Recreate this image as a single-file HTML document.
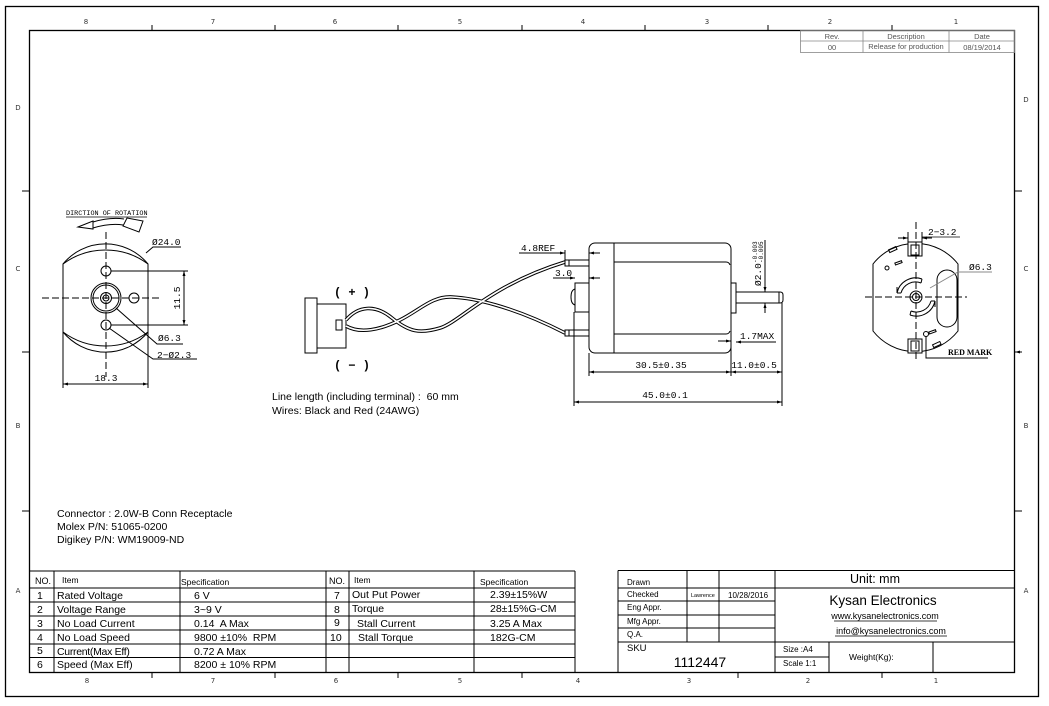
<!DOCTYPE html>
<html><head><meta charset="utf-8"><style>body{margin:0;background:#fff}svg{display:block}</style></head><body>
<svg xmlns="http://www.w3.org/2000/svg" width="1049" height="706" viewBox="0 0 1049 706" font-family="'Liberation Sans', Arial, sans-serif">
<defs>
<marker id="ar" viewBox="0 0 10 6" refX="10" refY="3" markerWidth="7" markerHeight="3" orient="auto-start-reverse" markerUnits="userSpaceOnUse"><path d="M0,0L10,3L0,6z" fill="#000" stroke="none"/></marker>
</defs>
<rect width="1049" height="706" fill="#fff"/>

<!-- frames -->
<g fill="none" stroke="#000" stroke-width="1.3">
<rect x="5.5" y="6.5" width="1033" height="690"/>
<rect x="29.5" y="30.5" width="985" height="642"/>
</g>
<g stroke="#000" stroke-width="1" fill="none">
<path d="M152,25V30M275,25V30M398,25V30M522,25V30M645,25V30M768,25V30M892,25V30"/>
<path d="M152,672V678M275,672V678M398,672V678M522,672V678M738,672V678M882,672V678"/>
<path d="M22,191H29M22,352H29M22,511H29"/>
<path d="M1014,191H1022M1014,511H1022"/>
<path d="M1022,352H1015" marker-end="url(#ar)"/>
</g>
<g font-family="'DejaVu Sans', sans-serif" font-size="7" fill="#333" text-anchor="middle">
<text x="86" y="24">8</text><text x="213" y="24">7</text><text x="335" y="24">6</text><text x="460" y="24">5</text><text x="583" y="24">4</text><text x="707" y="24">3</text><text x="830" y="24">2</text><text x="956" y="24">1</text>
<text x="87" y="683">8</text><text x="213" y="683">7</text><text x="336" y="683">6</text><text x="460" y="683">5</text><text x="578" y="683">4</text><text x="689" y="683">3</text><text x="808" y="683">2</text><text x="936" y="683">1</text>
<text x="18" y="110">D</text><text x="18" y="271">C</text><text x="18" y="428">B</text><text x="18" y="593">A</text>
<text x="1026" y="102">D</text><text x="1026" y="271">C</text><text x="1026" y="428">B</text><text x="1026" y="593">A</text>
</g>

<!-- rev table -->
<g fill="none" stroke="#888" stroke-width="0.8">
<rect x="800.5" y="30.5" width="214" height="22"/>
<path d="M863,30.5V52.5M949,30.5V52.5M800.5,41H1014.5"/>
</g>
<g font-size="7.5" fill="#555" text-anchor="middle">
<text x="832" y="39">Rev.</text><text x="906" y="39">Description</text><text x="982" y="39">Date</text>
<text x="832" y="50">00</text><text x="906" y="49">Release for production</text><text x="982" y="50">08/19/2014</text>
</g>

<!-- LEFT END VIEW -->
<g font-family="'Liberation Mono', monospace" fill="#000">
<text x="66" y="215" font-size="6.8">DIRCTION OF ROTATION</text>
<text x="152" y="245" font-size="9.5">Ø24.0</text>
<text x="158" y="341" font-size="9.5">Ø6.3</text>
<text x="157" y="358" font-size="9.5">2−Ø2.3</text>
<text x="106" y="381" font-size="9.5" text-anchor="middle">18.3</text>
<text x="0" y="0" font-size="9.5" text-anchor="middle" transform="translate(180,298) rotate(-90)">11.5</text>
</g>
<g fill="none" stroke="#000" stroke-width="1">
<path d="M66,217H147" stroke-width="0.8"/>
<path d="M78,227L93,221L93,229Z"/>
<path d="M93,222Q110,217 124,219M93,228Q110,223 123,225"/>
<path d="M123,226L127,218L143,221L139,232Z"/>
<path d="M63,264A55,55 0 0 1 148,264V332A55,55 0 0 1 63,332Z"/>
<path d="M63,264A71.5,71.5 0 0 1 148,264M63,332A71.5,71.5 0 0 0 148,332"/>
<circle cx="106" cy="271" r="5"/>
<circle cx="106" cy="325" r="5"/>
<circle cx="134" cy="298" r="5"/>
<circle cx="106" cy="298" r="15"/>
<circle cx="106" cy="298" r="13"/>
<circle cx="106" cy="298" r="5.5"/>
<circle cx="106" cy="298" r="3"/>
<path d="M106,232V377M42,298H162" stroke-dasharray="7,3"/>
<path d="M111,271H188M111,325H188"/>
<path d="M184,271V325" marker-start="url(#ar)" marker-end="url(#ar)"/>
<path d="M146,253L153,247H181"/>
<path d="M116,308L157,344H183"/>
<path d="M109,328L153,359H197"/>
<path d="M63,332V388M148,332V388"/>
<path d="M63,384H148" marker-start="url(#ar)" marker-end="url(#ar)"/>
</g>

<!-- CONNECTOR + WIRES -->
<g fill="none" stroke="#000" stroke-width="1">
<rect x="305" y="298" width="12" height="55"/>
<rect x="317" y="304" width="29" height="44"/>
<rect x="336" y="320" width="6" height="10"/>
</g>
<g fill="none" stroke-linecap="butt">
<path d="M346,320C358,306 375,304 392,318S420,334 440,328S490,285 565,262" stroke="#000" stroke-width="3.6"/>
<path d="M346,326C360,334 380,330 400,320S432,296 452,297S510,305 565,333" stroke="#000" stroke-width="3.6"/>
<path d="M346,320C358,306 375,304 392,318S420,334 440,328S490,285 565,262" stroke="#fff" stroke-width="1.6"/>
<path d="M346,326C360,334 380,330 400,320S432,296 452,297S510,305 565,333" stroke="#fff" stroke-width="1.6"/>
</g>
<g font-family="'Liberation Mono', monospace" font-size="12" font-weight="bold" fill="#000">
<text x="334" y="296" xml:space="preserve">( + )</text>
<text x="334" y="369" xml:space="preserve">( − )</text>
</g>
<g font-size="10.5" fill="#000">
<text x="272" y="400" xml:space="preserve">Line length (including terminal) :  60 mm</text>
<text x="272" y="414">Wires: Black and Red (24AWG)</text>
</g>

<!-- MOTOR SIDE VIEW -->
<g fill="none" stroke="#000" stroke-width="1">
<rect x="589" y="243" width="142" height="110" rx="6"/>
<path d="M614,243V353M614,262H726Q729,262 730,265M614,334H726Q729,334 730,331"/>
<rect x="731" y="283" width="5" height="30"/>
<path d="M736,292H780Q783,292 783,295V300Q783,303 780,303H736M779,292V303"/>
<rect x="575" y="283" width="14" height="29"/>
<path d="M575,289Q571,290 571,297Q571,304 575,305"/>
<rect x="565" y="260" width="24" height="6"/>
<path d="M569,260V266"/>
<rect x="565" y="330" width="24" height="6"/>
<path d="M569,330V336"/>
<path d="M565,250V260"/>
<path d="M519,253H565"/>
<path d="M552,253H565" marker-end="url(#ar)"/>
<path d="M600,253H589" marker-end="url(#ar)"/>
<path d="M553,278H575" marker-end="url(#ar)"/>
<path d="M600,278H589" marker-end="url(#ar)"/>
<path d="M765,240V292" marker-end="url(#ar)"/>
<path d="M765,313V303" marker-end="url(#ar)"/>
<path d="M718,341H731" marker-end="url(#ar)"/>
<path d="M776,342H736" marker-end="url(#ar)"/>
<path d="M589,353V376M731,313V376M782,303V406M574,312V406"/>
<path d="M589,372H731" marker-start="url(#ar)" marker-end="url(#ar)"/>
<path d="M731,372H782" marker-start="url(#ar)" marker-end="url(#ar)"/>
<path d="M574,402H782" marker-start="url(#ar)" marker-end="url(#ar)"/>
</g>
<g font-family="'Liberation Mono', monospace" font-size="9.5" fill="#000">
<text x="521" y="251">4.8REF</text>
<text x="555" y="276">3.0</text>
<text x="740" y="339">1.7MAX</text>
<text x="661" y="368" text-anchor="middle">30.5±0.35</text>
<text x="754" y="368" text-anchor="middle">11.0±0.5</text>
<text x="665" y="398" text-anchor="middle">45.0±0.1</text>
<g transform="translate(761,286) rotate(-90)">
<text x="0" y="0" font-size="9.5">Ø2.0</text>
<text x="23" y="-4" font-size="6">-0.003</text>
<text x="23" y="2" font-size="6">-0.005</text>
</g>
</g>

<!-- RIGHT END VIEW -->
<g fill="none" stroke="#000" stroke-width="1">
<path d="M873,264A54,54 0 0 1 958,264V331A54,54 0 0 1 873,331Z"/>
<rect x="908" y="242" width="14" height="14" fill="#fff"/>
<rect x="911" y="245" width="8" height="10"/>
<rect x="908" y="339" width="14" height="14" fill="#fff"/>
<rect x="911" y="341" width="8" height="10"/>
<rect x="937" y="270" width="20" height="57" rx="10"/>
<circle cx="916" cy="297" r="6"/>
<circle cx="916" cy="297" r="3.5"/>
<path d="M897,293A19,19 0 0 1 922,279M901,293A15,15 0 0 1 921,283M897,293L901,293M922,279L921,283"/>
<path d="M935,301A19,19 0 0 1 910,315M931,301A15,15 0 0 1 911,311M935,301L931,301M910,315L911,311"/>
<path d="M897,293L897,287M935,301V307"/>
<rect x="889" y="248" width="8" height="3" transform="rotate(-25 893 250)"/>
<circle cx="887" cy="268" r="2"/>
<rect x="895" y="262" width="7" height="2" transform="rotate(-20 898 263)"/>
<circle cx="926" cy="334" r="2.5"/>
<rect x="929" y="331" width="7" height="2" transform="rotate(-20 932 332)"/>
<rect x="933" y="343" width="8" height="3" transform="rotate(-25 937 345)"/>
<path d="M916,222V362M865,297H967" stroke-dasharray="7,3"/>
<path d="M908,232V242M922,232V242"/>
<path d="M898,238H908" marker-end="url(#ar)"/>
<path d="M932,238H922" marker-end="url(#ar)"/>
<path d="M922,237H960" stroke-width="0.8"/>
<path d="M930,288L958,272H992" stroke="#888"/>
<path d="M926,336V358H988"/>
</g>
<g font-family="'Liberation Mono', monospace" font-size="9.5" fill="#000">
<text x="928" y="235">2−3.2</text>
<text x="969" y="270">Ø6.3</text>
</g>
<text x="948" y="355" font-family="'Liberation Serif', serif" font-weight="bold" font-size="8" fill="#000">RED MARK</text>

<!-- CONNECTOR TEXT -->
<g font-size="10.5" fill="#000">
<text x="57" y="517">Connector : 2.0W-B Conn Receptacle</text>
<text x="57" y="530">Molex P/N: 51065-0200</text>
<text x="57" y="543">Digikey P/N: WM19009-ND</text>
</g>

<!-- SPEC TABLES -->
<g fill="none" stroke="#000" stroke-width="1">
<path d="M29.5,571H575M29.5,588H575M29.5,602H575M29.5,616H575M29.5,630H575M29.5,644H575M29.5,657.5H575"/>
<path d="M54,571V672M180,571V672M326,571V672M349,571V672M474,571V672M575,571V672"/>
</g>
<g fill="#000">
<text x="35" y="584" font-size="9">NO.</text>
<text x="62" y="583" font-size="8.5">Item</text>
<text x="181" y="585" font-size="8.5">Specification</text>
<text x="329" y="584" font-size="9">NO.</text>
<text x="354" y="583" font-size="8.5">Item</text>
<text x="480" y="585" font-size="8.5">Specification</text>
<g font-size="10.5">
<text x="37" y="599">1</text><text x="57" y="599">Rated Voltage</text><text x="194" y="599">6 V</text>
<text x="37" y="613">2</text><text x="57" y="613">Voltage Range</text><text x="194" y="613">3~9 V</text>
<text x="37" y="627">3</text><text x="57" y="627">No Load Current</text><text x="194" y="627" xml:space="preserve">0.14  A Max</text>
<text x="37" y="641">4</text><text x="57" y="641">No Load Speed</text><text x="194" y="641" xml:space="preserve">9800 ±10%  RPM</text>
<text x="37" y="654">5</text><text x="57" y="655" letter-spacing="-0.3">Current(Max Eff)</text><text x="194" y="655">0.72 A Max</text>
<text x="37" y="668">6</text><text x="57" y="668">Speed (Max Eff)</text><text x="194" y="668">8200 ± 10% RPM</text>
<text x="334" y="599">7</text><text x="352" y="598">Out Put Power</text><text x="490" y="598">2.39±15%W</text>
<text x="334" y="613">8</text><text x="352" y="612">Torque</text><text x="490" y="612">28±15%G-CM</text>
<text x="334" y="626">9</text><text x="357" y="627">Stall Current</text><text x="490" y="627">3.25 A Max</text>
<text x="330" y="641">10</text><text x="358" y="641">Stall Torque</text><text x="490" y="641">182G-CM</text>
</g>
</g>

<!-- TITLE BLOCK -->
<g fill="none" stroke="#000" stroke-width="1">
<path d="M618,570.5H1014.5M618,570.5V672"/>
<path d="M687,570.5V642M719,570.5V642M775,570.5V672M829,642V672M933,642V672"/>
<path d="M618,588H775M618,601H775M618,615H775M618,628H775M775,588H1014.5M618,642H1014.5M775,657H829"/>
</g>
<g fill="#000">
<text x="627" y="585" font-size="8">Drawn</text>
<text x="627" y="597" font-size="8">Checked</text>
<text x="627" y="610" font-size="8">Eng Appr.</text>
<text x="627" y="624" font-size="8">Mfg Appr.</text>
<text x="627" y="637" font-size="8">Q.A.</text>
<text x="627" y="651" font-size="9.5">SKU</text>
<text x="700" y="667" font-size="14" text-anchor="middle">1112447</text>
<text x="691" y="597" font-size="5.5">Lawrence</text>
<text x="728" y="598" font-size="8">10/28/2016</text>
<text x="875" y="583" font-size="12.5" text-anchor="middle">Unit: mm</text>
<text x="883" y="605" font-size="13.5" text-anchor="middle">Kysan Electronics</text>
<text x="885" y="619" font-size="9" text-anchor="middle">www.kysanelectronics.com</text>
<text x="891" y="634" font-size="9" text-anchor="middle">info@kysanelectronics.com</text>
<text x="783" y="652" font-size="8">Size :A4</text>
<text x="783" y="666" font-size="8">Scale 1:1</text>
<text x="849" y="660" font-size="8.5">Weight(Kg):</text>
</g>
<g stroke="#000" stroke-width="0.8">
<path d="M834,621H937M835,636H947"/>
</g>
</svg>
</body></html>
